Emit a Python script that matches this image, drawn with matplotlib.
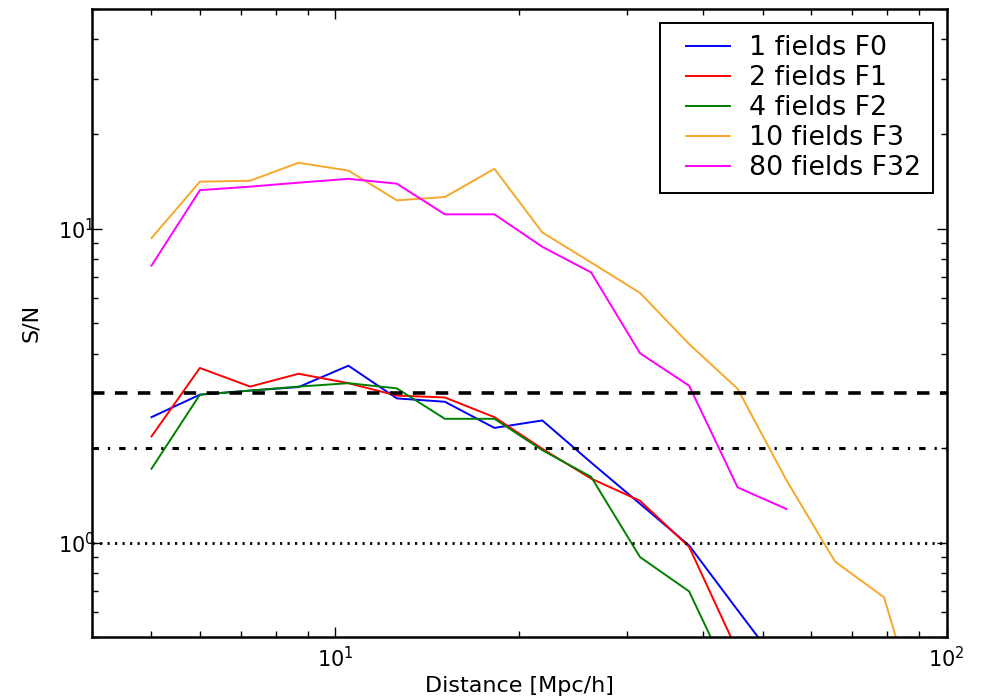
import matplotlib

matplotlib.use("Agg")  # headless
import matplotlib.pyplot as plt
from matplotlib.ticker import NullFormatter

plt.rcParams["font.family"] = "DejaVu Sans"
plt.rcParams["mathtext.fontset"] = "dejavusans"
plt.rcParams["lines.scale_dashes"] = False

# --- data ---
distance = [5.0, 6.0, 7.25, 8.7, 10.5, 12.6, 15.1, 18.2, 21.8, 26.2,
            31.5, 37.9, 45.5, 54.7, 65.7, 79.0, 95.0]

sn_f0 = [2.51, 2.96, 3.05, 3.13, 3.66, 2.88, 2.81, 2.32, 2.45, 1.80,
         1.33, 0.98, 0.61, 0.38]
sn_f1 = [2.18, 3.60, 3.14, 3.45, 3.22, 2.94, 2.90, 2.51, 1.99, 1.60,
         1.36, 0.97, 0.45]
sn_f2 = [1.72, 2.96, 3.05, 3.14, 3.22, 3.10, 2.48, 2.48, 1.97, 1.62,
         0.90, 0.70, 0.33]
sn_f3 = [9.33, 14.1, 14.2, 16.2, 15.3, 12.3, 12.6, 15.5, 9.72, 7.80,
         6.24, 4.29, 3.09, 1.58, 0.87, 0.67, 0.20]
sn_f32 = [7.62, 13.25, 13.6, 14.0, 14.4, 13.9, 11.1, 11.1, 8.75, 7.25,
          4.01, 3.16, 1.50, 1.28]

labels = ["1 fields F0", "2 fields F1", "4 fields F2", "10 fields F3", "80 fields F32"]
colors = ["blue", "red", "green", "#f7a82a", "magenta"]
series = [sn_f0, sn_f1, sn_f2, sn_f3, sn_f32]

# threshold levels drawn across the whole plot
level_dashed = 3.0
level_dashdot = 2.0
level_dotted = 1.0

fig = plt.figure(figsize=(9.9, 6.98), dpi=100)
ax = fig.add_axes([0.0932, 0.0870, 0.8630, 0.9001])

for vals, lab, col in zip(series, labels, colors):
    ax.plot(distance[:len(vals)], vals, color=col, lw=1.4, label=lab)

ax.axhline(level_dashed, color="black", lw=2.6, ls=(0, (9.0, 7.5)))
ax.axhline(level_dashdot, color="black", lw=2.2, ls=(0, (4.6, 6.5, 1.6, 6.5)))
ax.axhline(level_dotted, color="black", lw=2.0, ls=(0, (1.6, 3.8)))

ax.set_xscale("log")
ax.set_yscale("log")
ax.set_xlim(4, 100)
ax.set_ylim(0.5, 50)
ax.xaxis.set_minor_formatter(NullFormatter())
ax.yaxis.set_minor_formatter(NullFormatter())

ax.tick_params(which="both", direction="in", top=True, right=True,
               labelsize=15, width=1)
ax.tick_params(which="major", length=7, pad=6)
ax.tick_params(which="minor", length=4)
ax.tick_params(axis="y", which="major", pad=-2)
for s in ax.spines.values():
    s.set_linewidth(1.8)

ax.set_xlabel("Distance [Mpc/h]", fontsize=16, labelpad=4)
ax.set_ylabel("S/N", fontsize=16, labelpad=12)

leg = ax.legend(loc="upper right", fontsize=19.3, labelspacing=0.15,
                handlelength=2.24, handletextpad=0.6, borderpad=0.45,
                borderaxespad=0.52, fancybox=False, framealpha=1)
leg.get_frame().set_edgecolor("black")
leg.get_frame().set_linewidth(1.4)
# the reference draws shorter handle lines with extra room on their left
for ln in leg.get_lines():
    xd = ln.get_xdata()
    yd = ln.get_ydata()
    ln.set_data([xd[0] + 10, xd[-1] - 2], [yd[0], yd[-1]])

fig.savefig("out.png", dpi=100)
